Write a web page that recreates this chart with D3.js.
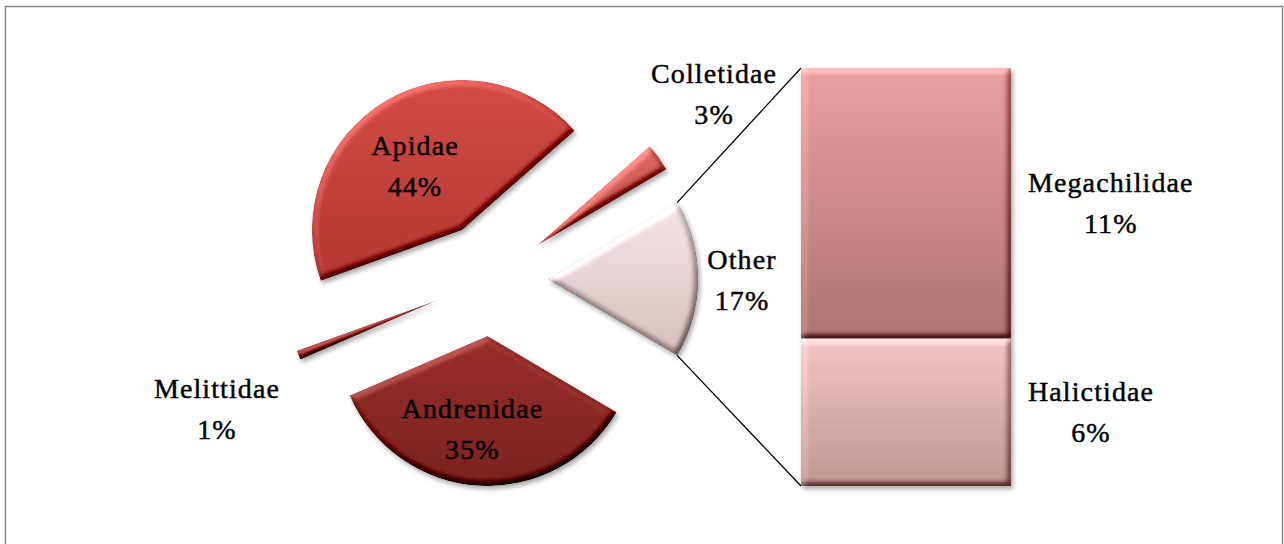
<!DOCTYPE html>
<html>
<head>
<meta charset="utf-8">
<script src="https://cdn.jsdelivr.net/npm/d3@7"></script>
<style>
  body { margin: 0; background: #fff; }
  svg { display: block; }
</style>
</head>
<body>
<div id="chart"></div>
<script>
// Bee families - pie of bar ("Other" split into the bar on the right)
const families = ["Other", "Andrenidae", "Melittidae", "Apidae", "Colletidae"];
const shares = [17, 35, 1, 44, 3];
const otherFamilies = ["Megachilidae", "Halictidae"];
const otherShares = [11, 6];

const width = 1284, height = 544;
const cx = 491, cy = 279, radius = 150, explode = 57;
const bar = {x: 801, top: 68, bottom: 486, width: 210};
const lineGap = 41;

const colors = {
  Apidae: ["#d24b46", "#b33833"],
  Andrenidae: ["#982e2a", "#7a221e"],
  Melittidae: ["#ad3833", "#8f2a26"],
  Colletidae: ["#dc6a65", "#c04a46"],
  Other: ["#f4e5e5", "#d8bfbf"],
  Megachilidae: ["#e8a09f", "#ad7573"],
  Halictidae: ["#f3c6c6", "#bd9694"]
};

// label centre offset from each exploded slice tip
const labelOffset = {
  Apidae: [-47, -63],
  Andrenidae: [-15, 94],
  Melittidae: [-221, 110],
  Colletidae: [177, -151],
  Other: [194, 1]
};

const svg = d3.select("#chart")
  .append("svg")
  .attr("width", width)
  .attr("height", height);

const defs = svg.append("defs");

// bevel + soft shadow, roughly like the office "soft round" look
const f = defs.append("filter")
  .attr("id", "bevel")
  .attr("x", "-15%").attr("y", "-15%")
  .attr("width", "135%").attr("height", "140%")
  .attr("color-interpolation-filters", "sRGB");
f.append("feGaussianBlur").attr("in", "SourceAlpha").attr("stdDeviation", 3).attr("result", "blur");
f.append("feDiffuseLighting")
  .attr("in", "blur").attr("surfaceScale", 5).attr("diffuseConstant", 1)
  .attr("lighting-color", "#fff").attr("result", "light")
  .append("feDistantLight").attr("azimuth", 235).attr("elevation", 45);
f.append("feComposite")
  .attr("in", "SourceGraphic").attr("in2", "light").attr("operator", "arithmetic")
  .attr("k1", 0).attr("k2", 1).attr("k3", 0.55).attr("k4", -0.389).attr("result", "lit");
f.append("feComposite").attr("in", "lit").attr("in2", "SourceAlpha").attr("operator", "in").attr("result", "litIn");
f.append("feGaussianBlur").attr("in", "SourceAlpha").attr("stdDeviation", 2.5).attr("result", "sblur");
f.append("feOffset").attr("in", "sblur").attr("dx", 2).attr("dy", 3).attr("result", "soff");
f.append("feComponentTransfer").attr("in", "soff").attr("result", "shadow")
  .append("feFuncA").attr("type", "linear").attr("slope", 0.35);
const merge = f.append("feMerge");
merge.append("feMergeNode").attr("in", "shadow");
merge.append("feMergeNode").attr("in", "litIn");

Object.keys(colors).forEach(k => {
  const g = defs.append("linearGradient")
    .attr("id", "grad-" + k)
    .attr("x1", 0).attr("y1", 0).attr("x2", 0).attr("y2", 1);
  g.append("stop").attr("offset", "0%").attr("stop-color", colors[k][0]);
  g.append("stop").attr("offset", "100%").attr("stop-color", colors[k][1]);
});

// chart frame
svg.append("rect")
  .attr("x", 5.5).attr("y", 6.5)
  .attr("width", 1277).attr("height", 600)
  .attr("fill", "none")
  .attr("stroke", "#888")
  .attr("stroke-width", 1.5);

function addLabel(x, y, lines) {
  const t = svg.append("text")
    .attr("text-anchor", "middle")
    .attr("font-family", "'Liberation Serif', 'Times New Roman', serif")
    .attr("font-size", "28px")
    .attr("letter-spacing", "1.1px")
    .attr("fill", "#000")
    .attr("stroke", "#000")
    .attr("stroke-width", 0.45);
  lines.forEach((s, i) => {
    t.append("tspan")
      .attr("x", x)
      .attr("y", y + (i - (lines.length - 1) / 2) * lineGap + 9)
      .text(s);
  });
  return t;
}

// Pie
const pieData = families.map((name, i) => ({name, value: shares[i]}));
const start = Math.PI / 2 - Math.PI * shares[0] / 100;
const pie = d3.pie()
  .sort(null)
  .value(d => d.value)
  .startAngle(start)
  .endAngle(start + 2 * Math.PI);
const arc = d3.arc().innerRadius(0).outerRadius(radius);

const arcs = pie(pieData);
arcs.forEach(d => {
  const mid = (d.startAngle + d.endAngle) / 2;
  d.tx = cx + explode * Math.sin(mid);
  d.ty = cy - explode * Math.cos(mid);
});

// connector lines from "Other" slice to the bar
const other = arcs[0];
const p1 = [other.tx + radius * Math.sin(other.startAngle), other.ty - radius * Math.cos(other.startAngle)];
const p2 = [other.tx + radius * Math.sin(other.endAngle), other.ty - radius * Math.cos(other.endAngle)];
svg.append("line")
  .attr("x1", p1[0]).attr("y1", p1[1])
  .attr("x2", bar.x).attr("y2", bar.top)
  .attr("stroke", "#000").attr("stroke-width", 1.3);
svg.append("line")
  .attr("x1", p2[0]).attr("y1", p2[1])
  .attr("x2", bar.x).attr("y2", bar.bottom)
  .attr("stroke", "#000").attr("stroke-width", 1.3);

svg.selectAll("path.slice")
  .data(arcs)
  .enter()
  .append("path")
  .attr("class", "slice")
  .attr("transform", d => `translate(${d.tx},${d.ty})`)
  .attr("d", arc)
  .attr("fill", d => `url(#grad-${d.data.name})`)
  .attr("filter", "url(#bevel)");

// Bar of "Other"
const y = d3.scaleLinear()
  .domain([0, d3.sum(otherShares)])
  .range([bar.top, bar.bottom]);
const stacked = [];
let acc = 0;
otherFamilies.forEach((name, i) => {
  stacked.push({name, value: otherShares[i], y0: acc, y1: acc + otherShares[i]});
  acc += otherShares[i];
});

svg.selectAll("rect.seg")
  .data(stacked)
  .enter()
  .append("rect")
  .attr("class", "seg")
  .attr("x", bar.x)
  .attr("y", d => y(d.y0))
  .attr("width", bar.width)
  .attr("height", d => y(d.y1) - y(d.y0))
  .attr("fill", d => `url(#grad-${d.name})`)
  .attr("filter", "url(#bevel)");

// Labels
arcs.forEach(d => {
  const o = labelOffset[d.data.name];
  addLabel(d.tx + o[0], d.ty + o[1], [d.data.name, d.data.value + "%"]);
});

stacked.forEach(d => {
  const t = addLabel(0, (y(d.y0) + y(d.y1)) / 2, [d.name, d.value + "%"]);
  let w = 0;
  t.selectAll("tspan").each(function() { w = Math.max(w, this.getComputedTextLength()); });
  t.selectAll("tspan").attr("x", bar.x + bar.width + 17 + w / 2);
});
</script>
</body>
</html>
